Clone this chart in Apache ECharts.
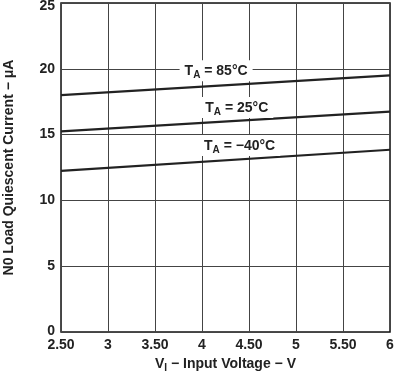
<!DOCTYPE html>
<html><head><meta charset="utf-8">
<script src="https://cdn.jsdelivr.net/npm/echarts@6/dist/echarts.min.js"></script>
<style>html,body{margin:0;padding:0;background:#fff}#c{width:396px;height:373px}</style>
</head><body><div id="c"></div>
<script>
const voltage = [2.5, 6];
const t85 = [18.0, 19.5];
const t25 = [15.25, 16.75];
const tm40 = [12.25, 13.85];
const xTickLabels = {2.5:'2.50',3:'3',3.5:'3.50',4:'4',4.5:'4.50',5:'5',5.5:'5.50',6:'6'};
const seriesLabels = [
  {name:'85', text:'85°C', at:[4.15, 19.85]},
  {name:'25', text:'25°C', at:[4.37, 17.05]},
  {name:'-40', text:'−40°C', at:[4.40, 14.17]}
];
const font = 'Liberation Sans, Arial, sans-serif';
const chart = echarts.init(document.getElementById('c'));
function mk(data, lab){
  return {
    type:'line', data: voltage.map((v,i)=>[v,data[i]]), symbol:'none',
    lineStyle:{color:'#222', width:2.2}, silent:true,
    markPoint:{symbol:'rect', symbolSize:[1,1], itemStyle:{color:'rgba(0,0,0,0)'},
      data:[{coord:lab.at, value:lab.text}],
      label:{show:true, position:'inside', formatter:'{t|T}{s|A}{t| = '+lab.text+'}',
        backgroundColor:'#fff', padding:[2,5,1,5],
        rich:{t:{fontFamily:font, fontSize:14, fontWeight:'bold', color:'#222'},
              s:{fontFamily:font, fontSize:10, fontWeight:'bold', color:'#222', verticalAlign:'bottom', padding:[8,0,0,0]}}}}
  };
}
const yl = {fontFamily:font, fontSize:14, fontWeight:'bold', color:'#222'};
chart.setOption({
  animation:false,
  grid:{left:61, right:6, top:3, bottom:41, show:true, borderColor:'#111', borderWidth:1.5, outerBoundsMode:'none', containLabel:false},
  xAxis:{type:'value', min:2.5, max:6, interval:0.5,
    name:'{t|V}{s|I}{t| − Input Voltage − V}', nameLocation:'middle', nameGap:23,
    nameTextStyle:{rich:{t:{fontFamily:font,fontSize:14,fontWeight:'bold',color:'#222'},
      s:{fontFamily:font,fontSize:10,fontWeight:'bold',color:'#222',verticalAlign:'bottom',padding:[8,0,0,0]}}},
    axisLine:{show:false}, axisTick:{show:false},
    axisLabel:{fontFamily:font, fontSize:14, fontWeight:'bold', color:'#222', margin:6, formatter:v=>xTickLabels[v]},
    splitLine:{lineStyle:{color:'#444', width:1}}},
  yAxis:{type:'value', min:0, max:25, interval:5,
    name:'N0 Load Quiescent Current − μA', nameLocation:'middle', nameGap:45,
    nameTextStyle:{fontFamily:font, fontSize:14, fontWeight:'bold', color:'#222'},
    axisLine:{show:false}, axisTick:{show:false},
    axisLabel:{margin:6, formatter:v=> v===25 ? '{top|25}' : (v===0 ? '{bot|0}' : '{n|'+v+'}'),
      rich:{n:yl, top:Object.assign({padding:[6,0,0,0]}, yl), bot:Object.assign({padding:[0,0,2,0]}, yl)}},
    splitLine:{lineStyle:{color:'#444', width:1}}},
  series:[mk(t85, seriesLabels[0]), mk(t25, seriesLabels[1]), mk(tm40, seriesLabels[2])]
});
</script></body></html>
